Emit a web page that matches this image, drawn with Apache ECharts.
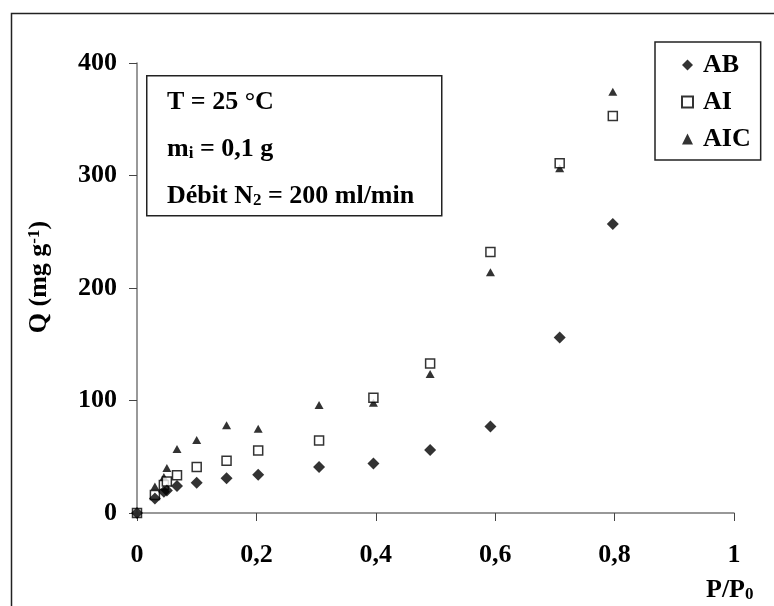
<!DOCTYPE html>
<html>
<head>
<meta charset="utf-8">
<script src="https://cdn.jsdelivr.net/npm/echarts@6/dist/echarts.min.js"></script>
<style>
  html, body { margin: 0; padding: 0; background: #fff; }
  #chart { width: 774px; height: 606px; }
</style>
</head>
<body>
<div id="chart"></div>
<script>
// P/P0 relatif, même pour les 3 échantillons
var pRatio = [0, 0.03, 0.045, 0.05, 0.067, 0.1, 0.15, 0.203, 0.305, 0.396, 0.491, 0.592, 0.708, 0.797];
var qAB  = [0, 13, 19, 20, 24, 27, 31, 34, 41, 44, 56, 77, 156, 257];
var qAI  = [0, 16, 25, 28, 33.5, 41, 46.5, 55.5, 64.5, 102.5, 133, 232, 311, 353];
var qAIC = [0, 23.5, 32, 40, 57, 65, 78, 75, 96, 98, 123.5, 214, 306.5, 374.5];

var xTicks = [0, 0.2, 0.4, 0.6, 0.8, 1];
var yTicks = [0, 100, 200, 300, 400];

var serif = 'Liberation Serif';
var fs = 26;

var pairs = function (xs, ys) {
  return xs.map(function (x, i) { return [x, ys[i]]; });
};

var subRich = {
  n: { font: 'bold ' + fs + 'px ' + serif, fill: '#000' },
  s: { font: 'bold 17px ' + serif, fill: '#000', verticalAlign: 'bottom', padding: [8, 0, 0, 0] }
};

var dom = document.getElementById('chart');
var myChart = echarts.init(dom);

var option = {
  backgroundColor: '#fff',
  animation: false,
  textStyle: { fontFamily: serif, fontWeight: 'bold', color: '#000' },
  grid: { left: 137, right: 40, top: 63, bottom: 93 },
  xAxis: {
    type: 'value',
    min: xTicks[0],
    max: xTicks[xTicks.length - 1],
    interval: 0.2,
    splitLine: { show: false },
    axisLine: { lineStyle: { color: '#777', width: 1.5 } },
    axisTick: { length: 8, lineStyle: { color: '#444' } },
    axisLabel: {
      margin: 29, fontSize: fs, fontFamily: serif, fontWeight: 'bold', color: '#000',
      formatter: function (v) { return String(+v.toFixed(1)).replace('.', ','); }
    }
  },
  yAxis: {
    type: 'value',
    min: yTicks[0],
    max: yTicks[yTicks.length - 1],
    interval: 100,
    splitLine: { show: false },
    axisLine: { show: true, lineStyle: { color: '#777', width: 1.5 } },
    axisTick: { show: true, length: 8, lineStyle: { color: '#444' } },
    axisLabel: { margin: 20, fontSize: fs, fontFamily: serif, fontWeight: 'bold', color: '#000' },
    name: '{n|Q (mg g}{s|-1}{n|)}',
    nameLocation: 'middle',
    nameGap: 84,
    nameRotate: 90,
    nameTextStyle: {
      padding: [0, 0, 0, 22],
      rich: {
        n: { fontSize: fs, fontFamily: serif, fontWeight: 'bold', color: '#000' },
        s: { fontSize: 17, fontFamily: serif, fontWeight: 'bold', color: '#000', verticalAlign: 'top', padding: [0, 0, 10, 0] }
      }
    }
  },
  legend: {
    orient: 'vertical',
    left: 655,
    top: 42,
    padding: [10, 10, 8, 26],
    itemGap: 11,
    itemWidth: 11,
    itemHeight: 11,
    borderColor: '#222',
    borderWidth: 1.5,
    backgroundColor: '#fff',
    textStyle: { fontSize: fs, fontFamily: serif, fontWeight: 'bold', color: '#000', padding: [0, 0, 0, 5] },
    data: ['AB', 'AI', 'AIC']
  },
  graphic: [
    // cadre extérieur (coupé à droite et en bas)
    { type: 'rect', left: 9, top: 11, shape: { width: 800, height: 700 }, style: { fill: 'none', stroke: '#222', lineWidth: 1.5 }, silent: true, z: -10 },
    // encadré des conditions
    { type: 'rect', left: 146, top: 75, shape: { width: 295, height: 140 }, style: { fill: '#fff', stroke: '#222', lineWidth: 1.5 }, z: 50 },
    { type: 'text', left: 167, top: 89, z: 51, style: { text: 'T = 25 °C', font: 'bold ' + fs + 'px ' + serif, fill: '#000' } },
    { type: 'text', left: 167, top: 136, z: 51, style: { text: '{n|m}{s|i}{n| = 0,1 g}', rich: subRich } },
    { type: 'text', left: 167, top: 183, z: 51, style: { text: '{n|Débit N}{s|2}{n| = 200 ml/min}', rich: subRich } },
    // nom de l'axe x
    { type: 'text', left: 706, top: 577, style: { text: '{n|P/P}{s|0}', rich: subRich } }
  ],
  series: [
    {
      name: 'AB', type: 'scatter', z: 3,
      symbol: 'diamond', symbolSize: 12,
      itemStyle: { color: '#000' },
      data: pairs(pRatio, qAB)
    },
    {
      name: 'AI', type: 'scatter', z: 2,
      symbol: 'rect', symbolSize: 9,
      itemStyle: { color: '#fff', borderColor: '#000', borderWidth: 1.5 },
      data: pairs(pRatio, qAI)
    },
    {
      name: 'AIC', type: 'scatter', z: 1,
      symbol: 'triangle', symbolSize: [9, 8],
      itemStyle: { color: '#000' },
      data: pairs(pRatio, qAIC)
    }
  ]
};

if (option && typeof option === 'object') {
  myChart.setOption(option);
}
</script>
</body>
</html>
